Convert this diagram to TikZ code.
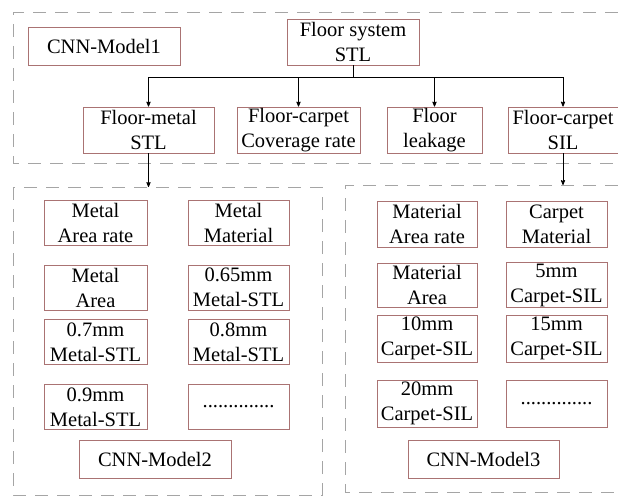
\documentclass[tikz,border=0pt]{standalone}
\usepackage{fontspec}
\setmainfont{Liberation Serif}
\newfontfamily\boxfont{Liberation Serif}
\usetikzlibrary{arrows,positioning,calc}
\definecolor{boxred}{RGB}{170,115,115}
\definecolor{framegray}{RGB}{165,165,165}
\tikzset{
    box/.style={
        rectangle,
        draw=boxred,
        line width=0.9pt,
        fill=white,
        inner sep=1pt,
        align=center,
        font=\boxfont\fontsize{20.5}{25}\selectfont
    },
    frame/.style={
        draw=framegray,
        line width=1pt,
        dash pattern=on 13pt off 9pt
    },
    link/.style={
        ->,
        black,
        line width=0.8pt
    }
}

\begin{document}
\begin{tikzpicture}[x=1pt, y=-1pt, >=stealth']

    \useasboundingbox (0,0) rectangle (618,500);

    % Molduras tracejadas
    \draw[frame] (618,13) -- (13,13) -- (13,163) -- (618,163);
    \draw[frame] (13,187) rectangle (322,495);
    \draw[frame] (618,185) -- (345,185) -- (345,492) -- (618,492);

    % Modelo 1
    \node[box, minimum width=152, minimum height=38] (M1) at (104,46) {CNN-Model1};
    \node[box, minimum width=132, minimum height=46] (FS) at (353,42) {Floor system\\STL};

    \node[box, minimum width=131, minimum height=46] (FM) at (148.5,130) {Floor-metal\\STL};
    \node[box, minimum width=123, minimum height=46] (FC) at (298.5,130) {Floor-carpet\\Coverage rate};
    \node[box, minimum width=95, minimum height=46] (FL) at (434.5,130) {Floor\\leakage};
    \node[box, minimum width=110, minimum height=46] (FCS) at (563,130) {Floor-carpet\\SIL};

    % Modelo 2
    \node[box, minimum width=103, minimum height=45] (MAR) at (95.5,223) {Metal\\Area rate};
    \node[box, minimum width=101, minimum height=45] (MM) at (238.5,223) {Metal\\Material};
    \node[box, minimum width=103, minimum height=45] (MA) at (95.5,287.5) {Metal\\Area};
    \node[box, minimum width=101, minimum height=45] (M065) at (238.5,287.5) {0.65mm\\Metal-STL};
    \node[box, minimum width=103, minimum height=45] (M07) at (95.5,342) {0.7mm\\Metal-STL};
    \node[box, minimum width=101, minimum height=45] (M08) at (238.5,342) {0.8mm\\Metal-STL};
    \node[box, minimum width=103, minimum height=45] (M09) at (95.5,407) {0.9mm\\Metal-STL};
    \node[box, minimum width=101, minimum height=45] (MD) at (238.5,407) {..............};
    \node[box, minimum width=152, minimum height=38] (M2) at (155,459) {CNN-Model2};

    % Modelo 3
    \node[box, minimum width=100, minimum height=46] (CAR) at (427,224) {Material\\Area rate};
    \node[box, minimum width=101, minimum height=46] (CM) at (556.5,224) {Carpet\\Material};
    \node[box, minimum width=100, minimum height=44] (CA) at (427,285) {Material\\Area};
    \node[box, minimum width=101, minimum height=44] (C5) at (556.5,285) {5mm\\Carpet-SIL};
    \node[box, minimum width=100, minimum height=47] (C10) at (427,338.5) {10mm\\Carpet-SIL};
    \node[box, minimum width=101, minimum height=47] (C15) at (556.5,338.5) {15mm\\Carpet-SIL};
    \node[box, minimum width=100, minimum height=47] (C20) at (427,403.5) {20mm\\Carpet-SIL};
    \node[box, minimum width=101, minimum height=47] (CD) at (556.5,403.5) {..............};
    \node[box, minimum width=151, minimum height=38] (M3) at (483.5,459) {CNN-Model3};

    % Ligacoes
    \coordinate (BR) at (353,77);
    \coordinate (T2) at (148.5,187);
    \coordinate (T3) at (563,185);

    \draw[link, -] (FS) -- (BR);
    \draw[link] (BR) -| (FM);
    \draw[link] (BR) -| (FC);
    \draw[link] (BR) -| (FL);
    \draw[link] (BR) -| (FCS);
    \draw[link] (FM) -- (T2);
    \draw[link] (FCS) -- (T3);

\end{tikzpicture}
\end{document}
